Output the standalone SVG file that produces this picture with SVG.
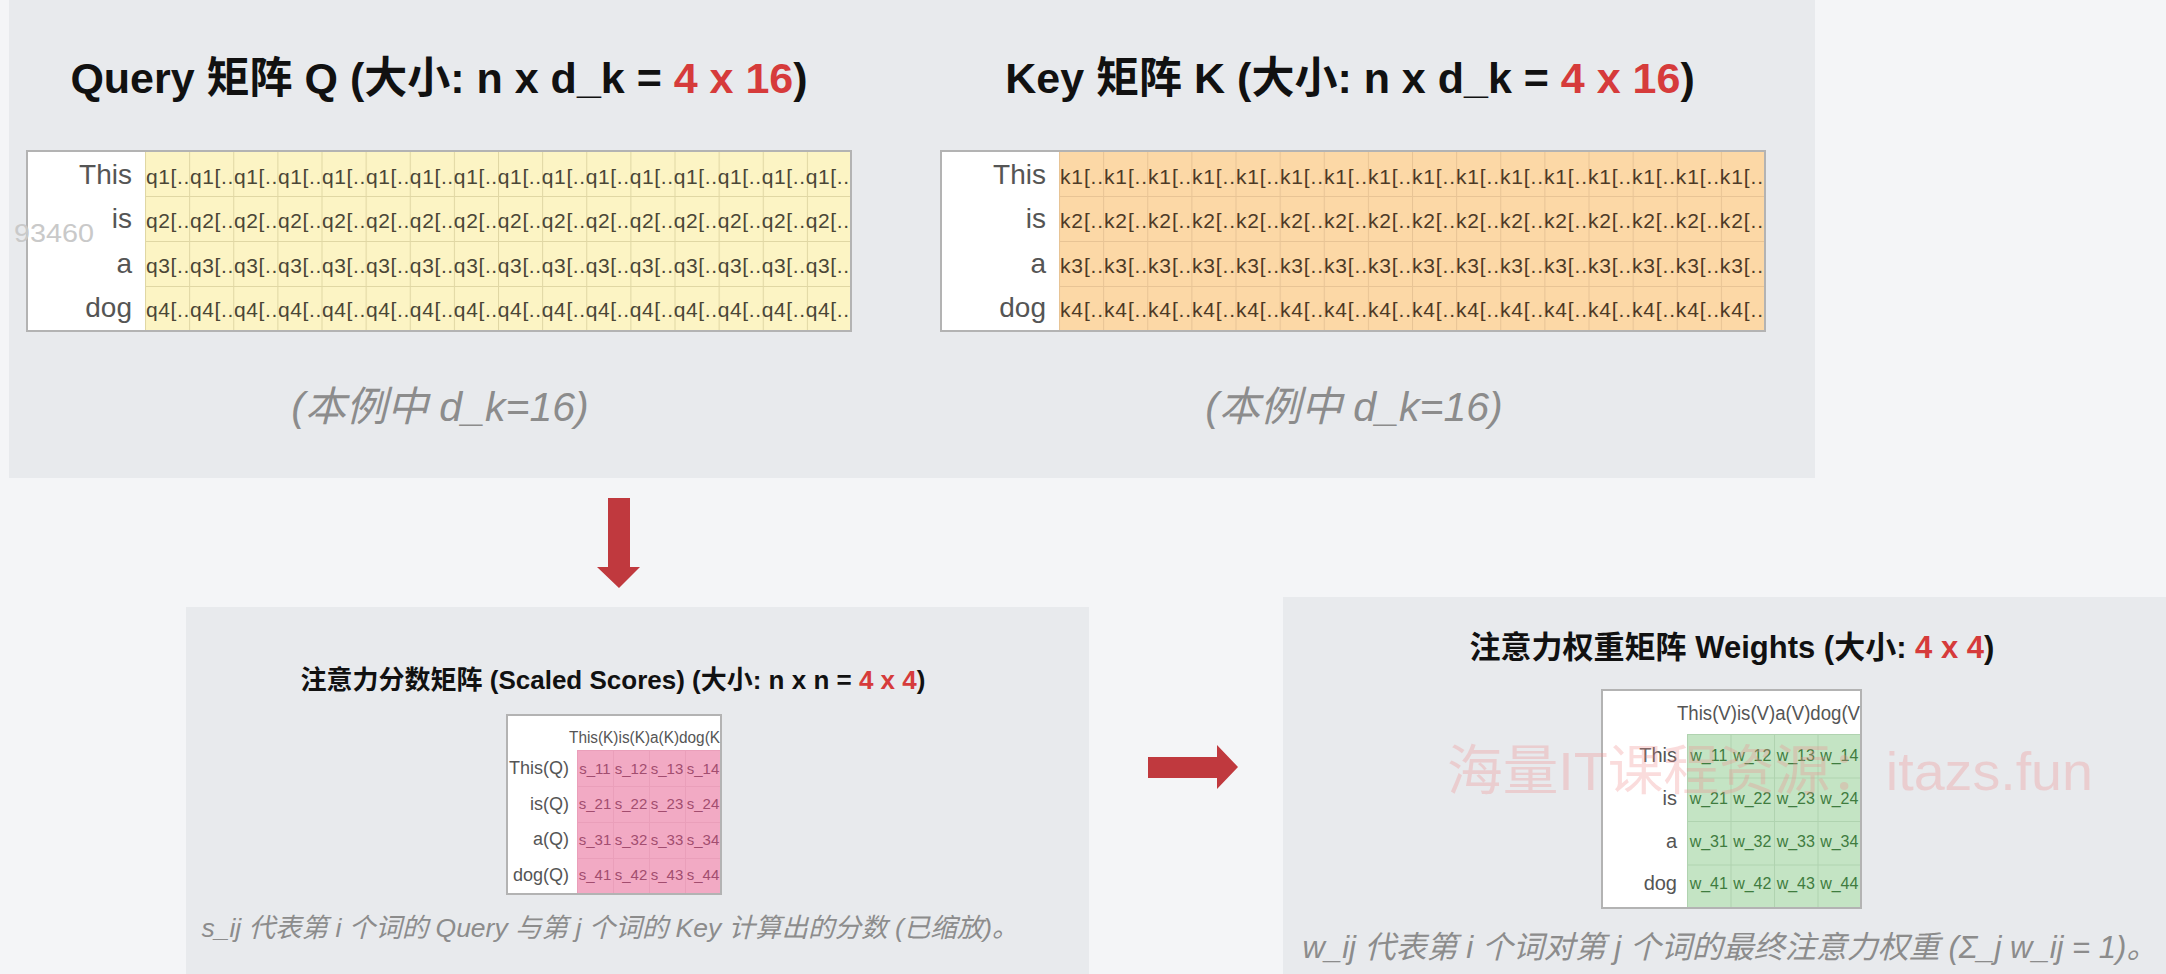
<svg xmlns="http://www.w3.org/2000/svg" width="2166" height="974" viewBox="0 0 2166 974">
<defs>
<style>
text { font-family: "Liberation Sans", "Noto Sans CJK SC", sans-serif; }
.panel { fill: #e8eaed; }
.title { font-weight: bold; fill: #111; }
.red { fill: #d63b3b; }
.note { font-style: italic; fill: #8c8c8c; }
.tbl { fill: #ffffff; stroke: #b3b3b3; stroke-width: 2; }
.lbl { fill: #555; }
.qtxt { fill: #4a4636; font-size: 21px; }
.ktxt { fill: #4d3a26; font-size: 21px; }
.stxt { fill: #a24d6f; font-size: 15px; text-anchor: middle; }
.wtxt { fill: #3f7c3f; font-size: 16px; text-anchor: middle; }
.arrow { fill: #c0393e; }
</style>
<pattern id="gridQ" x="145" y="151" width="44.125" height="45" patternUnits="userSpaceOnUse">
<rect width="44.125" height="45" fill="#fcf4c4"/>
<path d="M0.5 0V45M0 0.5H44.125" stroke="#e0d7a4" stroke-width="1" fill="none"/>
</pattern>
<pattern id="gridK" x="1059" y="151" width="44.125" height="45" patternUnits="userSpaceOnUse">
<rect width="44.125" height="45" fill="#fcd8a6"/>
<path d="M0.5 0V45M0 0.5H44.125" stroke="#e8c495" stroke-width="1" fill="none"/>
</pattern>
<pattern id="gridS" x="577" y="750" width="36" height="36" patternUnits="userSpaceOnUse">
<rect width="36" height="36" fill="#f2aac4"/>
<path d="M0.5 0V36M0 0.5H36" stroke="#ea9fba" stroke-width="1" fill="none"/>
</pattern>
<pattern id="gridW" x="1687" y="734" width="43.5" height="43.5" patternUnits="userSpaceOnUse">
<rect width="43.5" height="43.5" fill="#c4e4c4"/>
<path d="M0.5 0V43.5M0 0.5H43.5" stroke="#b0d3b0" stroke-width="1" fill="none"/>
</pattern>
</defs>

<rect x="0" y="0" width="2166" height="974" fill="#f4f5f7"/>

<g id="panels">
<rect class="panel" x="9" y="0" width="1806" height="478"/>
<rect class="panel" x="186" y="607" width="903" height="367"/>
<rect class="panel" x="1283" y="597" width="883" height="377"/>
</g>

<g id="node-query">
<text class="title" x="439" y="93" font-size="43" text-anchor="middle">Query 矩阵 Q (大小: n x d_k = <tspan class="red">4 x 16</tspan>)</text>
<rect class="tbl" x="27" y="151" width="824" height="180"/>
<rect x="145" y="152" width="705" height="178" fill="url(#gridQ)"/>
<g class="lbl" font-size="28" text-anchor="end">
<text x="132" y="183.5">This</text>
<text x="132" y="228">is</text>
<text x="132" y="272.5">a</text>
<text x="132" y="317">dog</text>
</g>
<text class="qtxt" x="146" y="183.5" textLength="703" lengthAdjust="spacing">q1[..q1[..q1[..q1[..q1[..q1[..q1[..q1[..q1[..q1[..q1[..q1[..q1[..q1[..q1[..q1[..</text>
<text class="qtxt" x="146" y="228" textLength="703" lengthAdjust="spacing">q2[..q2[..q2[..q2[..q2[..q2[..q2[..q2[..q2[..q2[..q2[..q2[..q2[..q2[..q2[..q2[..</text>
<text class="qtxt" x="146" y="272.5" textLength="703" lengthAdjust="spacing">q3[..q3[..q3[..q3[..q3[..q3[..q3[..q3[..q3[..q3[..q3[..q3[..q3[..q3[..q3[..q3[..</text>
<text class="qtxt" x="146" y="317" textLength="703" lengthAdjust="spacing">q4[..q4[..q4[..q4[..q4[..q4[..q4[..q4[..q4[..q4[..q4[..q4[..q4[..q4[..q4[..q4[..</text>
<text class="note" x="440" y="421" font-size="41" text-anchor="middle">(本例中 d_k=16)</text>
</g>

<g id="node-key">
<text class="title" x="1350" y="93" font-size="43" text-anchor="middle">Key 矩阵 K (大小: n x d_k = <tspan class="red">4 x 16</tspan>)</text>
<rect class="tbl" x="941" y="151" width="824" height="180"/>
<rect x="1059" y="152" width="705" height="178" fill="url(#gridK)"/>
<g class="lbl" font-size="28" text-anchor="end">
<text x="1046" y="183.5">This</text>
<text x="1046" y="228">is</text>
<text x="1046" y="272.5">a</text>
<text x="1046" y="317">dog</text>
</g>
<text class="ktxt" x="1060" y="183.5" textLength="703" lengthAdjust="spacing">k1[..k1[..k1[..k1[..k1[..k1[..k1[..k1[..k1[..k1[..k1[..k1[..k1[..k1[..k1[..k1[..</text>
<text class="ktxt" x="1060" y="228" textLength="703" lengthAdjust="spacing">k2[..k2[..k2[..k2[..k2[..k2[..k2[..k2[..k2[..k2[..k2[..k2[..k2[..k2[..k2[..k2[..</text>
<text class="ktxt" x="1060" y="272.5" textLength="703" lengthAdjust="spacing">k3[..k3[..k3[..k3[..k3[..k3[..k3[..k3[..k3[..k3[..k3[..k3[..k3[..k3[..k3[..k3[..</text>
<text class="ktxt" x="1060" y="317" textLength="703" lengthAdjust="spacing">k4[..k4[..k4[..k4[..k4[..k4[..k4[..k4[..k4[..k4[..k4[..k4[..k4[..k4[..k4[..k4[..</text>
<text class="note" x="1354" y="421" font-size="41" text-anchor="middle">(本例中 d_k=16)</text>
</g>

<g id="connectors">
<polygon class="arrow" points="608,498 630,498 630,567 640,567 619,588 597,567 608,567"/>
<polygon class="arrow" points="1148,757 1217,757 1217,745 1238,767 1217,789 1217,778 1148,778"/>
</g>

<g id="node-scores">
<text class="title" x="613" y="689" font-size="26" text-anchor="middle">注意力分数矩阵 (Scaled Scores) (大小: n x n = <tspan class="red">4 x 4</tspan>)</text>
<rect class="tbl" x="507" y="715" width="214" height="179"/>
<rect x="577" y="750" width="143" height="143" fill="url(#gridS)"/>
<text class="lbl" x="569" y="743" font-size="16" textLength="151" lengthAdjust="spacingAndGlyphs">This(K)is(K)a(K)dog(K</text>
<g class="lbl" font-size="18" text-anchor="end">
<text x="569" y="774">This(Q)</text>
<text x="569" y="809.5">is(Q)</text>
<text x="569" y="845">a(Q)</text>
<text x="569" y="880.5">dog(Q)</text>
</g>
<g class="stxt">
<text x="595" y="773.5">s_11</text><text x="631" y="773.5">s_12</text><text x="667" y="773.5">s_13</text><text x="703" y="773.5">s_14</text>
<text x="595" y="809">s_21</text><text x="631" y="809">s_22</text><text x="667" y="809">s_23</text><text x="703" y="809">s_24</text>
<text x="595" y="844.5">s_31</text><text x="631" y="844.5">s_32</text><text x="667" y="844.5">s_33</text><text x="703" y="844.5">s_34</text>
<text x="595" y="880">s_41</text><text x="631" y="880">s_42</text><text x="667" y="880">s_43</text><text x="703" y="880">s_44</text>
</g>
<text class="note" x="610" y="937" font-size="26.5" text-anchor="middle">s_ij 代表第 i 个词的 Query 与第 j 个词的 Key 计算出的分数 (已缩放)。</text>
</g>

<g id="node-weights">
<text class="title" x="1732" y="658" font-size="31" text-anchor="middle">注意力权重矩阵 Weights (大小: <tspan class="red">4 x 4</tspan>)</text>
<rect class="tbl" x="1602" y="690" width="259" height="218"/>
<rect x="1687" y="734" width="173" height="173" fill="url(#gridW)"/>
<text class="lbl" x="1677" y="720" font-size="20" textLength="183" lengthAdjust="spacingAndGlyphs">This(V)is(V)a(V)dog(V</text>
<g class="lbl" font-size="20" text-anchor="end">
<text x="1677" y="762">This</text>
<text x="1677" y="805">is</text>
<text x="1677" y="848">a</text>
<text x="1677" y="890">dog</text>
</g>
<g class="wtxt">
<text x="1708.75" y="761">w_11</text><text x="1752.25" y="761">w_12</text><text x="1795.75" y="761">w_13</text><text x="1839.25" y="761">w_14</text>
<text x="1708.75" y="804">w_21</text><text x="1752.25" y="804">w_22</text><text x="1795.75" y="804">w_23</text><text x="1839.25" y="804">w_24</text>
<text x="1708.75" y="847">w_31</text><text x="1752.25" y="847">w_32</text><text x="1795.75" y="847">w_33</text><text x="1839.25" y="847">w_34</text>
<text x="1708.75" y="889">w_41</text><text x="1752.25" y="889">w_42</text><text x="1795.75" y="889">w_43</text><text x="1839.25" y="889">w_44</text>
</g>
<text class="note" x="1730" y="958" font-size="31" text-anchor="middle">w_ij 代表第 i 个词对第 j 个词的最终注意力权重 (Σ_j w_ij = 1)。</text>
</g>

<g id="overlay">
<text x="14" y="242" font-size="26" fill="#c9c9c9" textLength="80" lengthAdjust="spacingAndGlyphs">93460</text>
<text x="1447" y="790" font-size="54" fill="#f08c8c" fill-opacity="0.3" textLength="646" lengthAdjust="spacingAndGlyphs">海量IT课程资源：itazs.fun</text>
</g>
</svg>
